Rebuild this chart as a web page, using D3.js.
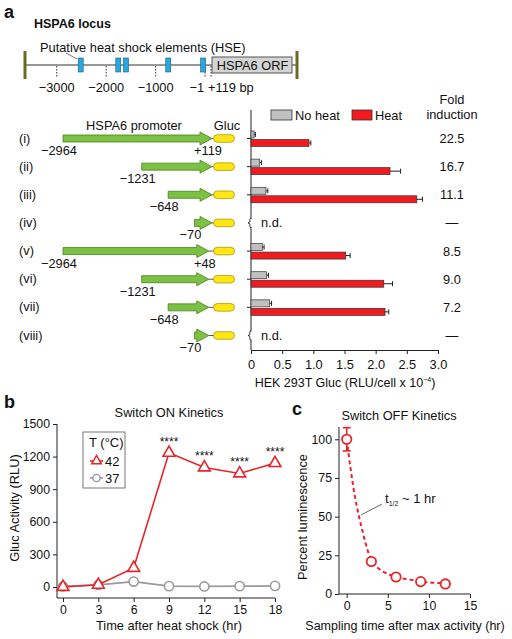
<!DOCTYPE html>
<html><head><meta charset="utf-8">
<script src="https://cdn.jsdelivr.net/npm/d3@7"></script>
<style>
body{margin:0;background:#fff;}
svg text{font-family:"Liberation Sans",Arial,sans-serif;fill:#111;}
</style></head>
<body><svg id="fig" width="512" height="639"></svg>
<script>
// ---------- DATA ----------
const locusTicks = [-3000, -2000, -1000, -1, 119];
const locusTickLabels = ["\u22123000", "\u22122000", "\u22121000", "\u22121", "+119 bp"];
const hseSites = [-2515, -1755, -1600, -745, -40];

const constructs = ["(i)", "(ii)", "(iii)", "(iv)", "(v)", "(vi)", "(vii)", "(viii)"];
const constructStart = [-2964, -1231, -648, -70, -2964, -1231, -648, -70];
const constructEnd = [119, 119, 119, 119, 48, 48, 48, 48];
const startLabels = ["\u22122964", "\u22121231", "\u2212648", "\u221270", "\u22122964", "\u22121231", "\u2212648", "\u221270"];
const endLabels = ["+119", "", "", "", "+48", "", "", ""];

const noHeat = [0.05, 0.14, 0.24, null, 0.18, 0.25, 0.30, null];
const noHeatErr = [0.02, 0.03, 0.03, null, 0.03, 0.03, 0.03, null];
const heat = [0.93, 2.23, 2.66, null, 1.52, 2.13, 2.15, null];
const heatErr = [0.03, 0.17, 0.09, null, 0.07, 0.14, 0.06, null];
const foldInduction = ["22.5", "16.7", "11.1", "\u2014", "8.5", "9.0", "7.2", "\u2014"];
const barTicks = [0, 0.5, 1.0, 1.5, 2.0, 2.5, 3.0];
const barTickLabels = ["0", "0.5", "1.0", "1.5", "2.0", "2.5", "3.0"];

const onHours = [0, 3, 6, 9, 12, 15, 18];
const on42 = [0, 20, 175, 1235, 1100, 1045, 1140];
const on37 = [5, 20, 50, 8, 5, 8, 10];
const onStars = ["", "", "", "****", "****", "****", "****"];
const onYTicks = [0, 300, 600, 900, 1200, 1500];

const offHours = [0, 3, 6, 9, 12];
const offPct = [100, 21, 11, 8, 6.5];
const offErr = [7.5, 0, 0, 0, 0];
const fitHours = [0, 0.5, 1, 1.5, 2, 2.5, 3, 4, 5, 6, 8, 10, 12];
const fitPct = [100, 80, 63, 50, 39, 29, 22, 16, 13, 11, 9, 7.5, 6.8];
const offXTicks = [0, 5, 10, 15];
const offYTicks = [0, 25, 50, 75, 100];

// ---------- COLOURS ----------
const RED = "#f01a1f", GREY = "#c0c0c0", GREEN = "#7cc242", GREEN_D = "#4d7d22",
      YEL = "#ffe512", YEL_D = "#a89a10", HSE = "#29a8dc", OLIVE = "#6b6a22", LINE_R = "#e8242b", LINE_G = "#9a9a9a";

const svg = d3.select("#fig");
const FONT = '"Liberation Sans",Arial,sans-serif';

function txt(g, x, y, s, size, opts = {}) {
  const t = g.append("text").attr("x", x).attr("y", y).attr("font-size", size).text(s);
  if (opts.anchor) t.attr("text-anchor", opts.anchor);
  if (opts.bold) t.attr("font-weight", "bold");
  if (opts.fill) t.style("fill", opts.fill);
  return t;
}

// ================= PANEL a =================
const a = svg.append("g");
txt(a, 4, 18, "a", 18, {bold: true});
txt(a, 34, 28, "HSPA6 locus", 12.5, {bold: true});
txt(a, 40, 52, "Putative heat shock elements (HSE)", 12.8);

const locusX = d3.scaleLinear().domain([-3000, 119]).range([56.7, 211]);
const LY = 65;
a.append("line").attr("x1", 25).attr("x2", 297).attr("y1", LY).attr("y2", LY).attr("stroke", "#333").attr("stroke-width", 1);
a.selectAll(".olive").data([25, 297]).join("rect")
  .attr("x", d => d - 1.5).attr("y", 51).attr("width", 3).attr("height", 28).attr("fill", OLIVE);
a.append("line").attr("x1", 66).attr("y1", 53).attr("x2", 77).attr("y2", 59).attr("stroke", "#555").attr("stroke-width", 0.8);
a.selectAll(".lt").data(locusTicks).join("line")
  .attr("x1", d => locusX(d)).attr("x2", d => locusX(d)).attr("y1", LY + 1).attr("y2", LY + 12)
  .attr("stroke", "#333").attr("stroke-dasharray", "1.5,1.5");
a.append("rect").attr("x", locusX(119) + 1).attr("y", 57).attr("width", 292 - locusX(119) - 1).attr("height", 16)
  .attr("fill", "#d4d4d4").attr("stroke", "#555").attr("stroke-width", 1);
txt(a, (locusX(119) + 292) / 2 + 1, 70, "HSPA6 ORF", 12.8, {anchor: "middle"});
a.selectAll(".hse").data(hseSites).join("rect")
  .attr("x", d => locusX(d) - 2.5).attr("y", 58).attr("width", 5).attr("height", 14)
  .attr("fill", HSE).attr("stroke", "#1a5f7f").attr("stroke-width", 0.6);
locusTicks.forEach((d, i) => {
  let x = locusX(d), anchor = "middle";
  if (i === 3) { x = locusX(d) - 1; anchor = "end"; }
  if (i === 4) { x = locusX(d) - 3; anchor = "start"; }
  txt(a, x, 92, locusTickLabels[i], 12.8, {anchor});
});

// constructs
const rowY = d3.scalePoint().domain(constructs).range([138.5, 335.5]);
const promX = d3.scaleLinear().domain([-2964, 119]).range([63, 203]);
const HEAD = 12, BODY = 3.5, HH = 6.5;
txt(a, 134, 130, "HSPA6 promoter", 12.8, {anchor: "middle"});
txt(a, 227, 130, "Gluc", 12.8, {anchor: "middle"});
constructs.forEach((c, i) => {
  const y = rowY(c);
  const x0 = promX(constructStart[i]);
  const tip = promX(constructEnd[i]) + 9;
  const hb = tip - HEAD;
  txt(a, 19, y + 4, c, 12.8);
  const p = `M${x0},${y - BODY}L${hb},${y - BODY}L${hb},${y - HH}L${tip},${y}L${hb},${y + HH}L${hb},${y + BODY}L${x0},${y + BODY}Z`;
  a.append("line").attr("x1", tip).attr("x2", 214).attr("y1", y).attr("y2", y).attr("stroke", "#555").attr("stroke-width", 1);
  a.append("path").attr("d", p).attr("fill", GREEN).attr("stroke", GREEN_D).attr("stroke-width", 0.8);
  a.append("rect").attr("x", 213.5).attr("y", y - 3.8).attr("width", 21).attr("height", 7.6).attr("rx", 3.8)
    .attr("fill", YEL).attr("stroke", YEL_D).attr("stroke-width", 0.8);
  txt(a, x0 - 4, y + 16.5, startLabels[i], 12.8, {anchor: "middle"});
  if (endLabels[i]) txt(a, tip - 4, y + 16.5, endLabels[i], 12.8, {anchor: "middle"});
});

// bar chart
const bx = d3.scaleLinear().domain([0, 3]).range([251, 438]);
const BAXY = 350;
const gx = a.append("g").attr("transform", `translate(0,${BAXY})`)
  .call(d3.axisBottom(bx).tickValues(barTicks).tickFormat((d, i) => barTickLabels[i]).tickSize(4).tickSizeOuter(0));
gx.select(".domain").attr("stroke", "#222");
gx.selectAll("line").attr("stroke", "#222");
gx.selectAll("text").attr("font-size", 12.8).attr("dy", "0.9em").style("font-family", FONT).style("fill", "#111");
a.append("line").attr("x1", bx(0)).attr("x2", bx(0)).attr("y1", 110).attr("y2", BAXY).attr("stroke", "#222");
{
  const t = a.append("text").attr("x", 345).attr("y", 387).attr("font-size", 12.5).attr("text-anchor", "middle");
  t.append("tspan").text("HEK 293T Gluc (RLU/cell x 10");
  t.append("tspan").attr("dy", -5).attr("font-size", 7).text("\u22124");
  t.append("tspan").attr("dy", 5).text(")");
}
a.append("rect").attr("x", 271).attr("y", 110).attr("width", 21).attr("height", 10).attr("fill", GREY).attr("stroke", "#333").attr("stroke-width", 0.8);
txt(a, 295, 120, "No heat", 12.8);
a.append("rect").attr("x", 352).attr("y", 110).attr("width", 20).attr("height", 10).attr("fill", RED).attr("stroke", "#333").attr("stroke-width", 0.8);
txt(a, 375, 120, "Heat", 12.8);
txt(a, 452, 104, "Fold", 12.8, {anchor: "middle"});
txt(a, 452, 119, "induction", 12.8, {anchor: "middle"});

constructs.forEach((c, i) => {
  const y = rowY(c);
  txt(a, 452, y + 4.5, foldInduction[i], 12.8, {anchor: "middle"});
  if (heat[i] == null) {
    a.append("rect").attr("x", bx(0) - 2).attr("y", y - 4).attr("width", 4).attr("height", 8).attr("fill", "#fff");
    a.append("path").attr("d", `M${bx(0)},${y - 5}C${bx(0) - 3},${y - 3} ${bx(0) + 1},${y - 1} ${bx(0) - 3},${y}C${bx(0) + 1},${y + 1} ${bx(0) - 3},${y + 3} ${bx(0)},${y + 5}`)
      .attr("fill", "none").attr("stroke", "#222").attr("stroke-width", 1);
    txt(a, bx(0) + 10, y + 4.5, "n.d.", 12.8);
    return;
  }
  a.append("line").attr("x1", bx(0) - 4).attr("x2", bx(0)).attr("y1", y).attr("y2", y).attr("stroke", "#222");
  const bars = [
    {v: noHeat[i], e: noHeatErr[i], y0: y - 7.5, fill: GREY},
    {v: heat[i], e: heatErr[i], y0: y + 1, fill: RED}
  ];
  bars.forEach(b => {
    a.append("rect").attr("x", bx(0)).attr("y", b.y0).attr("width", bx(b.v) - bx(0)).attr("height", 7)
      .attr("fill", b.fill).attr("stroke", "#333").attr("stroke-width", 0.7);
    const cy = b.y0 + 3.5;
    a.append("line").attr("x1", bx(b.v)).attr("x2", bx(b.v + b.e)).attr("y1", cy).attr("y2", cy).attr("stroke", "#222");
    a.append("line").attr("x1", bx(b.v + b.e)).attr("x2", bx(b.v + b.e)).attr("y1", cy - 2.5).attr("y2", cy + 2.5).attr("stroke", "#222");
  });
});

// ================= PANEL b =================
const b = svg.append("g");
txt(b, 4, 408, "b", 18, {bold: true});
txt(b, 169, 417, "Switch ON Kinetics", 12.8, {anchor: "middle"});
const xB = d3.scaleLinear().domain([0, 18]).range([63, 275]);
const yB = d3.scaleLinear().domain([0, 1500]).range([587, 424]);
const BX0 = 57, BY0 = 598;
const ay = b.append("g").attr("transform", `translate(${BX0},0)`)
  .call(d3.axisLeft(yB).tickValues(onYTicks).tickFormat(d3.format("d")).tickSize(4).tickSizeOuter(0));
ay.select(".domain").remove();
b.append("line").attr("x1", BX0).attr("x2", BX0).attr("y1", 424).attr("y2", BY0).attr("stroke", "#222");
const ax = b.append("g").attr("transform", `translate(0,${BY0})`)
  .call(d3.axisBottom(xB).tickValues(onHours).tickFormat(d3.format("d")).tickSize(4).tickSizeOuter(0));
ax.select(".domain").remove();
b.append("line").attr("x1", BX0).attr("x2", xB(18)).attr("y1", BY0).attr("y2", BY0).attr("stroke", "#222");
[ay, ax].forEach(g => {
  g.selectAll("line").attr("stroke", "#222");
  g.selectAll("text").attr("font-size", 12.3).style("font-family", FONT).style("fill", "#111");
});
txt(b, 169, 630, "Time after heat shock (hr)", 12.8, {anchor: "middle"});
txt(b, 0, 0, "Gluc Activity (RLU)", 12.8, {anchor: "middle"}).attr("transform", "translate(19,508) rotate(-90)");

const lineB = d3.line().x((d, i) => xB(onHours[i])).y(d => yB(d));
b.append("path").datum(on37).attr("d", lineB).attr("fill", "none").attr("stroke", LINE_G).attr("stroke-width", 1.8);
b.selectAll(".c37").data(on37).join("circle")
  .attr("cx", (d, i) => xB(onHours[i])).attr("cy", d => yB(d)).attr("r", 4.6)
  .attr("fill", "#fff").attr("stroke", LINE_G).attr("stroke-width", 1.6);
b.append("path").datum(on42).attr("d", lineB).attr("fill", "none").attr("stroke", LINE_R).attr("stroke-width", 1.6);
const tri = d3.symbol(d3.symbolTriangle, 60);
b.selectAll(".t42").data(on42).join("path")
  .attr("d", tri).attr("transform", (d, i) => `translate(${xB(onHours[i])},${yB(d)})`)
  .attr("fill", "#fff").attr("stroke", LINE_R).attr("stroke-width", 1.6);
onStars.forEach((s, i) => {
  if (s) txt(b, xB(onHours[i]), yB(on42[i]) - 7, s, 12, {anchor: "middle"});
});
b.append("rect").attr("x", 83).attr("y", 432).attr("width", 42).attr("height", 56).attr("fill", "#fff").attr("stroke", "#777").attr("stroke-width", 1);
txt(b, 89, 447, "T (\u00b0C)", 13);
b.append("line").attr("x1", 90).attr("x2", 103).attr("y1", 461).attr("y2", 461).attr("stroke", LINE_R).attr("stroke-width", 1.6);
b.append("path").attr("d", d3.symbol(d3.symbolTriangle, 40)).attr("transform", "translate(96.5,461)").attr("fill", "#fff").attr("stroke", LINE_R).attr("stroke-width", 1.4);
txt(b, 105, 465.5, "42", 13);
b.append("line").attr("x1", 90).attr("x2", 103).attr("y1", 478).attr("y2", 478).attr("stroke", LINE_G).attr("stroke-width", 1.6);
b.append("circle").attr("cx", 96.5).attr("cy", 478).attr("r", 3.6).attr("fill", "#fff").attr("stroke", LINE_G).attr("stroke-width", 1.4);
txt(b, 105, 482.5, "37", 13);

// ================= PANEL c =================
const c = svg.append("g");
txt(c, 292, 415, "c", 18, {bold: true});
txt(c, 399, 420, "Switch OFF Kinetics", 12.8, {anchor: "middle"});
const xC = d3.scaleLinear().domain([0, 15]).range([346.7, 470]);
const yC = d3.scaleLinear().domain([0, 100]).range([594, 439.3]);
const CX0 = 339;
const cy = c.append("g").attr("transform", `translate(${CX0},0)`)
  .call(d3.axisLeft(yC).tickValues(offYTicks).tickSize(4).tickSizeOuter(0));
cy.select(".domain").remove();
c.append("line").attr("x1", CX0).attr("x2", CX0).attr("y1", 427).attr("y2", 594).attr("stroke", "#222");
const cx = c.append("g").attr("transform", `translate(0,594)`)
  .call(d3.axisBottom(xC).tickValues(offXTicks).tickSize(4).tickSizeOuter(0));
cx.select(".domain").remove();
c.append("line").attr("x1", CX0).attr("x2", xC(15)).attr("y1", 594).attr("y2", 594).attr("stroke", "#222");
[cy, cx].forEach(g => {
  g.selectAll("line").attr("stroke", "#222");
  g.selectAll("text").attr("font-size", 12.3).style("font-family", FONT).style("fill", "#111");
});
txt(c, 405, 630, "Sampling time after max activity (hr)", 12.5, {anchor: "middle"});
txt(c, 0, 0, "Percent luminescence", 12.8, {anchor: "middle"}).attr("transform", "translate(307,517) rotate(-90)");

const fitLine = d3.line().x((d, i) => xC(fitHours[i])).y(d => yC(d)).curve(d3.curveMonotoneX);
c.append("path").datum(fitPct).attr("d", fitLine).attr("fill", "none").attr("stroke", LINE_R)
  .attr("stroke-width", 2).attr("stroke-dasharray", "4,3");
offPct.forEach((v, i) => {
  if (offErr[i] > 0) {
    const x = xC(offHours[i]);
    c.append("line").attr("x1", x).attr("x2", x).attr("y1", yC(v - offErr[i])).attr("y2", yC(v + offErr[i])).attr("stroke", LINE_R).attr("stroke-width", 1.6);
    [v - offErr[i], v + offErr[i]].forEach(e => c.append("line").attr("x1", x - 4).attr("x2", x + 4).attr("y1", yC(e)).attr("y2", yC(e)).attr("stroke", LINE_R).attr("stroke-width", 1.6));
  }
});
c.selectAll(".co").data(offPct).join("circle")
  .attr("cx", (d, i) => xC(offHours[i])).attr("cy", d => yC(d)).attr("r", 4.7)
  .attr("fill", "#fff").attr("stroke", LINE_R).attr("stroke-width", 1.8);
c.append("line").attr("x1", 361).attr("y1", 515).attr("x2", 382).attr("y2", 504).attr("stroke", "#555").attr("stroke-width", 0.9);
{
  const t = c.append("text").attr("x", 385).attr("y", 503).attr("font-size", 13);
  t.append("tspan").text("t");
  t.append("tspan").attr("dy", 3).attr("font-size", 7).text("1/2");
  t.append("tspan").attr("dy", -3).text(" ~ 1 hr");
}
</script></body></html>
